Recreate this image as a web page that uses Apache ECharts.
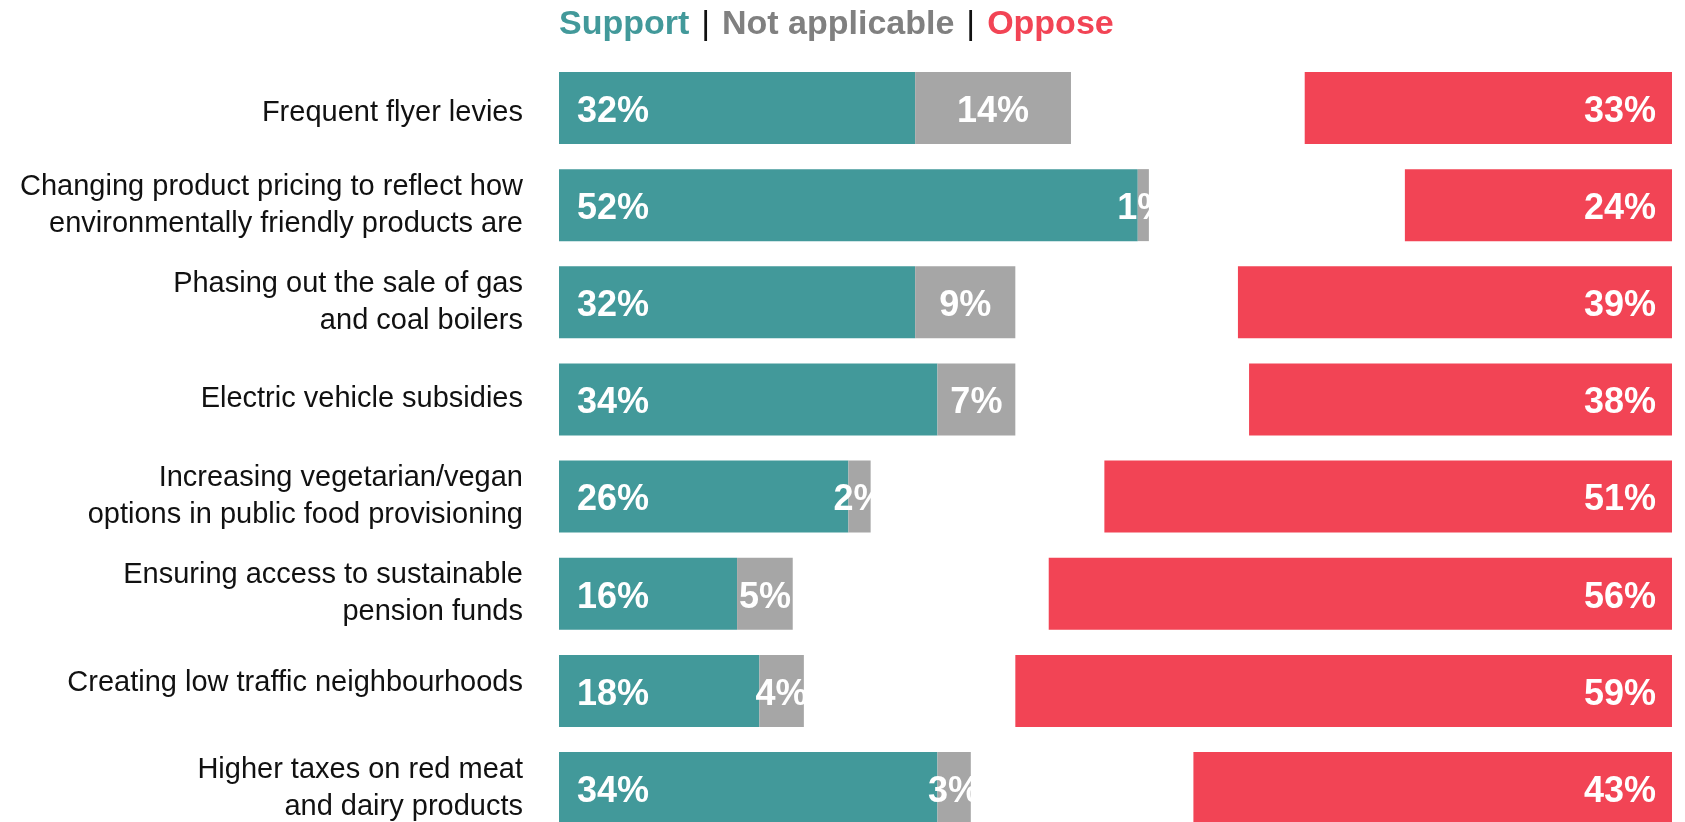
<!DOCTYPE html>
<html>
<head>
<meta charset="utf-8">
<script src="https://cdn.jsdelivr.net/npm/echarts@6/dist/echarts.min.js"></script>
<style>
  html, body { margin: 0; padding: 0; background: #fff; overflow: hidden; }
  #chart { width: 1685px; height: 822px; }
</style>
</head>
<body>
<div id="chart"></div>
<script>
// Policy measures, top to bottom
const categories = [
  'Frequent flyer levies',
  'Changing product pricing to reflect how\nenvironmentally friendly products are',
  'Phasing out the sale of gas\nand coal boilers',
  'Electric vehicle subsidies',
  'Increasing vegetarian/vegan\noptions in public food provisioning',
  'Ensuring access to sustainable\npension funds',
  'Creating low traffic neighbourhoods',
  'Higher taxes on red meat\nand dairy products'
];

// Shares of respondents, in percent
const support       = [32, 52, 32, 34, 26, 16, 18, 34];
const notApplicable = [14,  1,  9,  7,  2,  5,  4,  3];
const oppose        = [33, 24, 39, 38, 51, 56, 59, 43];

const TEAL = '#42999A';
const GREY = '#A6A6A6';
const RED  = '#F24455';
const FONT = '"Liberation Sans", Arial, sans-serif';

const chart = echarts.init(document.getElementById('chart'));

const valueLabel = {
  show: true,
  color: '#fff',
  fontFamily: FONT,
  fontWeight: 'bold',
  fontSize: 36,
  formatter: p => p.value + '%'
};

const titleRich = (color, weight) => ({
  color, fontWeight: weight, fontSize: 34, fontFamily: FONT, lineHeight: 40
});

const catText = { color: '#111', fontFamily: FONT, fontSize: 29, lineHeight: 37 };

chart.setOption({
  animation: false,
  title: {
    left: 559,
    top: 5,
    padding: 0,
    text: '{s|Support} {p||} {n|Not applicable} {p||} {o|Oppose}',
    textStyle: {
      fontFamily: FONT,
      fontSize: 34,
      lineHeight: 40,
      rich: {
        s: titleRich(TEAL, 'bold'),
        n: titleRich('#808080', 'bold'),
        o: titleRich(RED, 'bold'),
        p: Object.assign(titleRich('#111', 'normal'), { padding: [0, 2.5, 0, 2.5] })
      }
    }
  },
  grid: {
    left: 559,
    right: 13,
    top: 59.4,
    bottom: -14.6,
    containLabel: false,
    outerBoundsMode: 'none'
  },
  xAxis: [
    { type: 'value', min: 0, max: 100, show: false },
    { type: 'value', min: 0, max: 100, inverse: true, show: false }
  ],
  yAxis: {
    type: 'category',
    inverse: true,
    data: categories,
    axisLine: { show: false },
    axisTick: { show: false },
    splitLine: { show: false },
    axisLabel: Object.assign({
      margin: 36,
      align: 'right',
      // the first label sits a little low, the seventh a little high
      formatter: (val, idx) => idx === 0 ? '{down|' + val + '}' : idx === 6 ? '{up|' + val + '}' : val,
      rich: {
        down: Object.assign({ padding: [10, 0, 0, 0] }, catText),
        up: Object.assign({ padding: [0, 0, 16, 0] }, catText)
      }
    }, catText)
  },
  series: [
    {
      name: 'Support',
      type: 'bar',
      stack: 'left',
      xAxisIndex: 0,
      data: support,
      barWidth: 72,
      barGap: '-100%',
      itemStyle: { color: TEAL },
      label: Object.assign({}, valueLabel, { position: 'insideLeft', distance: 18, offset: [0, 4] })
    },
    {
      name: 'Not applicable',
      type: 'bar',
      stack: 'left',
      xAxisIndex: 0,
      data: notApplicable,
      barWidth: 72,
      barGap: '-100%',
      itemStyle: { color: GREY },
      label: Object.assign({}, valueLabel, { position: 'inside', offset: [0, 4] })
    },
    {
      name: 'Oppose',
      type: 'bar',
      xAxisIndex: 1,
      data: oppose,
      barWidth: 72,
      barGap: '-100%',
      itemStyle: { color: RED },
      label: Object.assign({}, valueLabel, { position: 'insideRight', distance: 16, offset: [0, 4] })
    }
  ]
});
</script>
</body>
</html>
